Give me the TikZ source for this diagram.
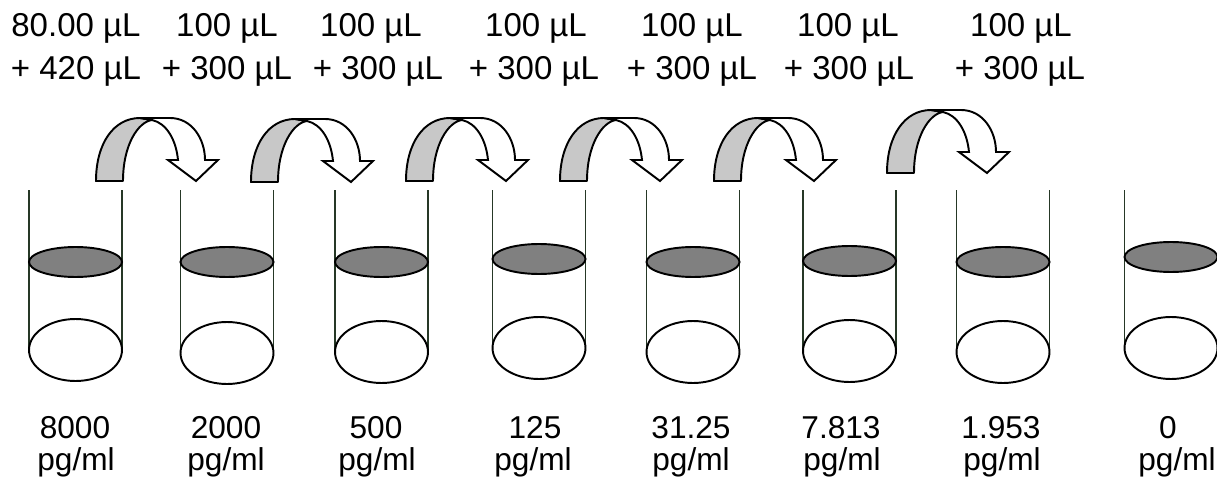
\documentclass[tikz,border=0pt]{standalone}
\usepackage{fontspec}
\setmainfont{Liberation Sans}
\definecolor{wallc}{RGB}{38,56,38}
\definecolor{liqgray}{RGB}{128,128,128}
\definecolor{bandc}{RGB}{200,200,200}
\begin{document}
\begin{tikzpicture}[x=0.02cm,y=-0.02cm,
  toplbl/.style={anchor=base, inner sep=0pt, font=\fontsize{18.8}{22}\selectfont},
  botlbl/.style={anchor=base, inner sep=0pt, font=\fontsize{18}{22}\selectfont},
  wall/.style={draw=wallc, line width=1.1pt},
  liquid/.style={draw=black, line width=1.1pt, fill=liqgray},
  tubebottom/.style={draw=black, line width=1.1pt, fill=white},
  bandgray/.style={draw=black, line width=1.1pt, fill=bandc, line join=round},
  bandwhite/.style={draw=black, line width=1.1pt, fill=white, line join=miter}]
\fill[white] (0,0) rectangle (1217,483);
\useasboundingbox (0,0) rectangle (1217,483);

% tubes
\foreach \cx/\gy/\wy [count=\i] in {75.5/262/350, 227/262/353, 381.5/262/352, 539/259/348, 693/262/352, 849.5/261/351, 1003/262/352, 1171/257/348}{
  \coordinate (tube\i) at (\cx,190);
  \draw[wall] (\cx-46.5,190) -- (\cx-46.5,\wy);
  \draw[wall] (\cx+46.5,190) -- (\cx+46.5,\wy);
  \draw[tubebottom] (\cx,\wy) ellipse [x radius=0.93cm, y radius=0.62cm];
  \draw[liquid] (\cx,\gy) ellipse [x radius=0.93cm, y radius=0.3cm];
}

% transfer arrows
\foreach \ax/\ay [count=\i] in {96/181, 251/182, 406/181, 560/181, 714/181, 887/173}{
  \begin{scope}[shift={(\ax,\ay)}]
    \coordinate (arrow\i) at (0,0);
    \draw[bandgray] (0,0) -- (27,0) .. controls (27,-36) and (42,-59) .. (56,-61)
      -- (44,-63) .. controls (18,-63) and (0,-38) .. (0,0) -- cycle;
    \draw[bandwhite] (44,-63) -- (74,-63) .. controls (96,-63) and (109,-42) .. (109,-21)
      -- (122,-21) -- (100,0) -- (72,-21) -- (82,-21)
      .. controls (80,-42) and (70,-58) .. (56,-61) -- cycle;
  \end{scope}
}

% volume labels
\node[toplbl] (v1a) at (76,37) {80.00 µL};
\node[toplbl] (v1b) at (76,80) {+ 420 µL};
\node[toplbl] (v2a) at (227,37) {100 µL};
\node[toplbl] (v2b) at (227,80) {+ 300 µL};
\node[toplbl] (v3a) at (371,37) {100 µL};
\node[toplbl] (v3b) at (378,80) {+ 300 µL};
\node[toplbl] (v4a) at (536,37) {100 µL};
\node[toplbl] (v4b) at (534,80) {+ 300 µL};
\node[toplbl] (v5a) at (692,37) {100 µL};
\node[toplbl] (v5b) at (692,80) {+ 300 µL};
\node[toplbl] (v6a) at (848,37) {100 µL};
\node[toplbl] (v6b) at (849,80) {+ 300 µL};
\node[toplbl] (v7a) at (1021,37) {100 µL};
\node[toplbl] (v7b) at (1020,80) {+ 300 µL};

% concentration labels
\node[botlbl] (c1a) at (75,438) {8000};
\node[botlbl] (c1b) at (76,470) {pg/ml};
\node[botlbl] (c2a) at (226,438) {2000};
\node[botlbl] (c2b) at (226,470) {pg/ml};
\node[botlbl] (c3a) at (376,438) {500};
\node[botlbl] (c3b) at (377,470) {pg/ml};
\node[botlbl] (c4a) at (535,438) {125};
\node[botlbl] (c4b) at (533,470) {pg/ml};
\node[botlbl] (c5a) at (691,438) {31.25};
\node[botlbl] (c5b) at (691,470) {pg/ml};
\node[botlbl] (c6a) at (841,438) {7.813};
\node[botlbl] (c6b) at (842,470) {pg/ml};
\node[botlbl] (c7a) at (1001,438) {1.953};
\node[botlbl] (c7b) at (1002,470) {pg/ml};
\node[botlbl] (c8a) at (1168,438) {0};
\node[botlbl] (c8b) at (1177,470) {pg/ml};
\end{tikzpicture}
\end{document}
